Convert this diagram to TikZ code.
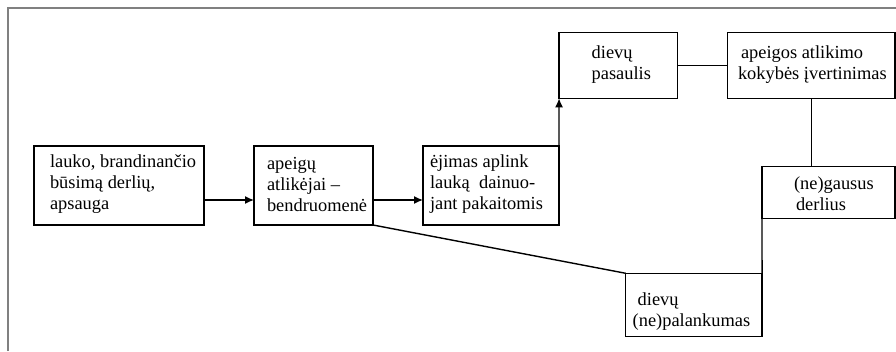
\documentclass[tikz,border=0pt]{standalone}
\usepackage{fontspec}
\setmainfont{Liberation Serif}
\usetikzlibrary{arrows.meta}
\definecolor{framegray}{RGB}{128,128,128}

\tikzset{
	rbox/.style={shape=rectangle, draw, line width=1.4pt, inner sep=0pt, outer sep=0pt},
	rtext/.style={anchor=west, align=left, inner sep=0pt, outer sep=0pt, font=\fontsize{18.4}{21}\selectfont},
	link/.style={line width=1.4pt},
	tip/.style={-{Latex[length=9pt, width=8pt]}}
}

\begin{document}
\begin{tikzpicture}[x=1pt, y=-1pt]
			\useasboundingbox (0, 0) rectangle (896, 351);
			\draw[framegray, line width=2pt] (8, 351) -- (8, 8) -- (896, 8);
			\node[rbox, minimum width=170pt, minimum height=79pt] (lauk) at (119, 185.5){} node[rtext] (lauktxt) at (50, 184){lauko, brandinančio\\būsimą derlių,\\apsauga};
			\node[rbox, minimum width=119pt, minimum height=79pt] (atlik) at (313.5, 185.5){} node[rtext] (atliktxt) at (267, 184){apeigų\\atlikėjai –\\bendruomenė};
			\node[rbox, minimum width=136pt, minimum height=79pt] (ejimas) at (491, 185.5){} node[rtext] (ejimastxt) at (430, 184){ėjimas aplink\\lauką\ \ dainuo-\\jant pakaitomis};
			\node[rbox, minimum width=118.3pt, minimum height=66pt] (pasaul) at (618.2, 65.3){} node[rtext] (pasaultxt) at (591.7, 64.2){dievų\\pasaulis};
			\node[rbox, minimum width=167.7pt, minimum height=66pt] (vertin) at (811.2, 65.3){} node[rtext] (vertintxt) at (738, 64.2){\hspace*{3pt}apeigos atlikimo\\kokybės įvertinimas};
			\node[rbox, minimum width=133pt, minimum height=51.6pt] (derl) at (828.5, 192.5){} node[rtext] (derltxt) at (794, 193.7){(ne)gausus\\\hspace*{2pt}derlius};
			\node[rbox, minimum width=136.3pt, minimum height=63.4pt] (palank) at (693.9, 305){} node[rtext] (palanktxt) at (632.7, 311.7){\hspace*{5pt}dievų\\(ne)palankumas};
			\draw[link, tip] ([yshift=-14.5pt]lauk.east) -- ([yshift=-14.5pt]lauk.east -| atlik.west);
			\draw[link, tip] ([yshift=-14.5pt]atlik.east) -- ([yshift=-14.5pt]atlik.east -| ejimas.west);
			\draw[link, tip] (ejimas.north east) -- (pasaul.south west);
			\draw[link] (pasaul.east) -- (vertin.west);
			\draw[link] (vertin.south) -- (vertin.south |- derl.north);
			\draw[link] (derl.south west) -- (palank.north east);
			\draw[link] (atlik.south east) -- (palank.north west);
		\end{tikzpicture}
\end{document}
